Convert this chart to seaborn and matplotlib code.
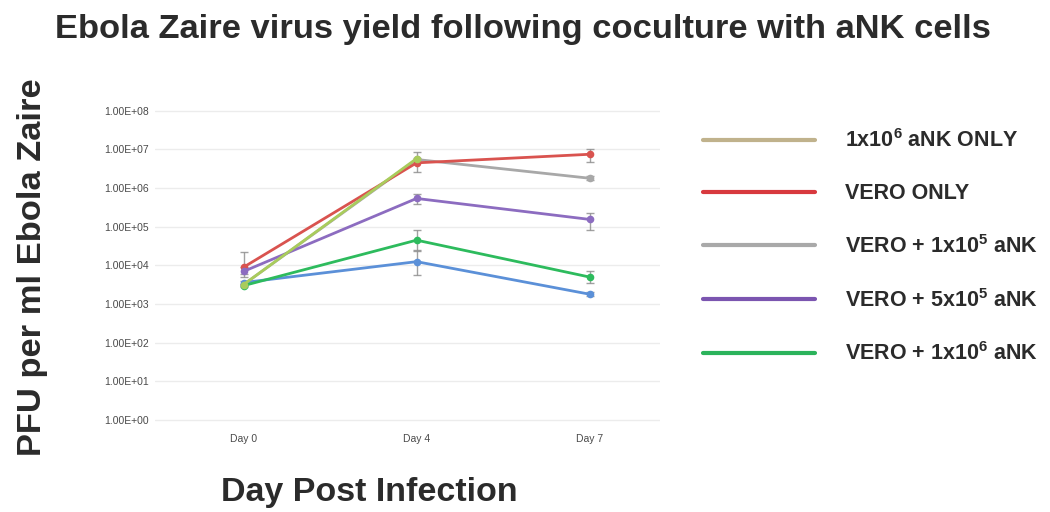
import numpy as np
import pandas as pd
import matplotlib
matplotlib.use("Agg")
import matplotlib.pyplot as plt
from matplotlib.lines import Line2D
from matplotlib.ticker import FixedLocator, FuncFormatter, NullLocator
import seaborn as sns

# ---- data ----
days = ["Day 0", "Day 4", "Day 7"]

ank_only = [3.2e3, 5.8e6, np.nan]
vero_only = [9.0e3, 4.5e6, 7.5e6]
vero_1e5 = [3.2e3, 5.5e6, 1.8e6]
vero_5e5 = [7.0e3, 5.4e5, 1.55e5]
vero_1e6 = [3.0e3, 4.5e4, 5.0e3]
vero_extra = [3.6e3, 1.25e4, 1.8e3]

# error bar bounds (lower, upper)
vero_only_lo = [6.0e3, 2.6e6, 4.6e6]
vero_only_hi = [2.2e4, 8.8e6, 1.05e7]
vero_1e5_lo = [3.0e3, 5.0e6, 1.6e6]
vero_1e5_hi = [3.4e3, 6.0e6, 2.0e6]
vero_5e5_lo = [5.0e3, 3.8e5, 8.0e4]
vero_5e5_hi = [9.0e3, 7.2e5, 2.3e5]
vero_1e6_lo = [2.7e3, 2.5e4, 3.6e3]
vero_1e6_hi = [3.3e3, 8.0e4, 7.0e3]
vero_extra_lo = [3.2e3, 5.8e3, 1.6e3]
vero_extra_hi = [4.0e3, 2.3e4, 2.0e3]

series_names = ["aNK only", "VERO only", "VERO + 1e5", "VERO + 5e5", "VERO + 1e6", "VERO extra"]
series_vals = [ank_only, vero_only, vero_1e5, vero_5e5, vero_1e6, vero_extra]
series_lo = [None, vero_only_lo, vero_1e5_lo, vero_5e5_lo, vero_1e6_lo, vero_extra_lo]
series_hi = [None, vero_only_hi, vero_1e5_hi, vero_5e5_hi, vero_1e6_hi, vero_extra_hi]
line_colors = ["#a9cc5c", "#d9534f", "#a8a8a8", "#8c6cc0", "#2dbb5d", "#5b90d8"]
draw_order = [2, 1, 3, 5, 4, 0]

legend_labels = ["1x10$^{6}$ aNK ONLY", "VERO ONLY", "VERO + 1x10$^{5}$ aNK",
                 "VERO + 5x10$^{5}$ aNK", "VERO + 1x10$^{6}$ aNK"]
legend_colors = ["#c0b28c", "#d8393e", "#a9a9a9", "#7b55b0", "#2bb35b"]

y_ticks = [1e0, 1e1, 1e2, 1e3, 1e4, 1e5, 1e6, 1e7, 1e8]

# ---- style ----
sns.set_theme(style="white")
plt.rcParams["font.family"] = ["Liberation Sans", "DejaVu Sans"]
plt.rcParams["mathtext.fontset"] = "custom"
plt.rcParams["mathtext.rm"] = "Liberation Sans:bold"
plt.rcParams["mathtext.bf"] = "Liberation Sans:bold"

fig = plt.figure(figsize=(10.5, 5.12), dpi=100)
ax = fig.add_axes([0.148, 0.164, 0.481, 0.635])

records = []
for name, vals in zip(series_names, series_vals):
    for d, v in zip(days, vals):
        records.append({"series": name, "day": d, "pfu": v})
df = pd.DataFrame(records)

for i in draw_order:
    name = series_names[i]
    sub = df[df["series"] == name].dropna()
    if series_lo[i] is not None:
        vals = np.array(series_vals[i])
        lo = vals - np.array(series_lo[i])
        hi = np.array(series_hi[i]) - vals
        ax.errorbar(days, vals, yerr=[lo, hi], fmt="none", ecolor="#8a8a8a",
                    elinewidth=1.0, capsize=3, capthick=1.0, alpha=0.8, zorder=1)
    sns.lineplot(data=sub, x="day", y="pfu", ax=ax, color=line_colors[i],
                 linewidth=2.0, marker="o", markersize=5.5, markeredgewidth=0,
                 sort=False, legend=False, zorder=2 + draw_order.index(i))

ax.set_yscale("log")
ax.set_ylim(0.62, 1.6e8)
ax.set_xlim(-0.51, 2.41)
ax.yaxis.set_major_locator(FixedLocator(y_ticks))
ax.yaxis.set_minor_locator(NullLocator())
ax.yaxis.set_major_formatter(FuncFormatter(lambda v, p: "1.00E+%02d" % int(round(np.log10(v)))))
ax.grid(axis="y", color="#ececec", linewidth=1.0)
ax.grid(axis="x", visible=False)
for s in ax.spines.values():
    s.set_visible(False)
ax.tick_params(axis="both", length=0, labelsize=7.5, colors="#4a4a4a")
ax.tick_params(axis="y", pad=5)
ax.tick_params(axis="x", pad=4)
ax.set_xlabel("")
ax.set_ylabel("")

fig.text(0.498, 0.943, "Ebola Zaire virus yield following coculture with aNK cells",
         ha="center", va="center", fontsize=24.8, fontweight="bold", color="#2b2b2b")
fig.text(0.031, 0.478, "PFU per ml Ebola Zaire", rotation=90, ha="center", va="center",
         fontsize=24.8, fontweight="bold", color="#2b2b2b")
fig.text(0.352, 0.039, "Day Post Infection", ha="center", va="center",
         fontsize=24.5, fontweight="bold", color="#2b2b2b")

handles = [Line2D([0], [0], color=c, linewidth=3) for c in legend_colors]
leg = fig.legend(handles, legend_labels, loc="upper left", bbox_to_anchor=(0.651, 0.785),
                 frameon=False, handlelength=5.2, handletextpad=1.4, labelspacing=1.43,
                 prop={"weight": "bold", "size": 15.5})
for t in leg.get_texts():
    t.set_color("#2b2b2b")

fig.savefig("out.png", dpi=100)
